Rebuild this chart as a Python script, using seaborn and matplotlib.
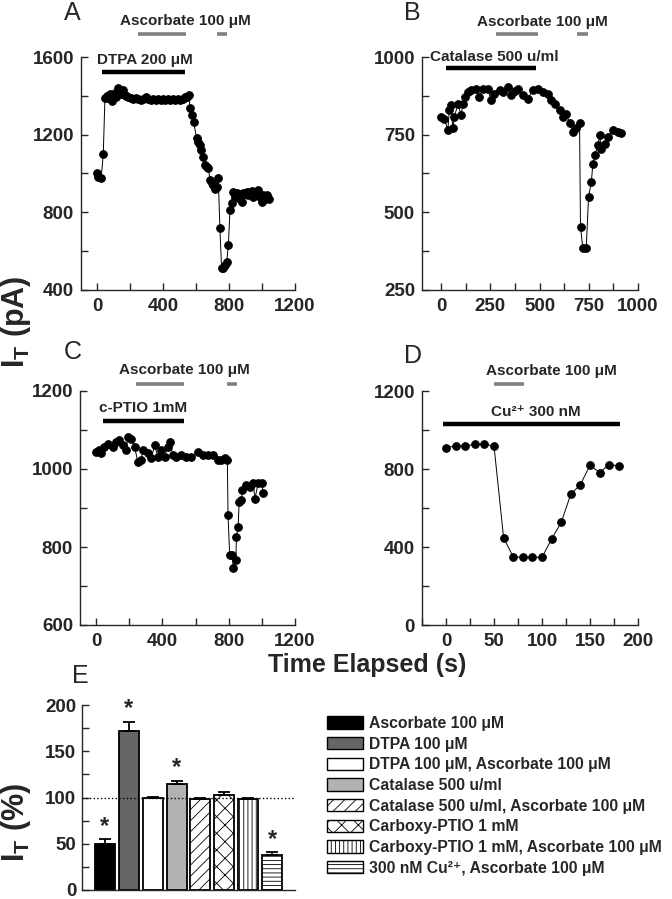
import numpy as np
import pandas as pd
import matplotlib
matplotlib.use('Agg')
import matplotlib.pyplot as plt
from matplotlib.patches import Patch
from matplotlib.ticker import MultipleLocator
import seaborn as sns

# ---- Panel A : DTPA 200 uM ----
a_time = [0, 8, 25, 38, 48, 58, 68, 78, 88, 98, 108, 118, 128, 138, 148, 158, 168, 178,
          190, 205, 220, 235, 250, 265, 280, 295, 310, 325, 340, 355, 370, 385, 400,
          415, 430, 445, 460, 475, 490, 505, 520, 535, 545, 555, 565, 575, 585, 604,
          614, 624, 630, 644, 655, 665, 675, 685, 695, 705, 715, 725, 735, 745, 755,
          765, 776, 786, 796, 806, 816, 826, 836, 846, 856, 866, 877, 887, 897, 907,
          917, 927, 937, 947, 957, 968, 978, 988, 998, 1008, 1018, 1028, 1040]
a_current = [1002, 983, 975, 1100, 1387, 1400, 1390, 1408, 1375, 1400, 1415, 1395, 1442,
             1425, 1410, 1430, 1405, 1400, 1395, 1390, 1385, 1388, 1382, 1380, 1385, 1392,
             1386, 1380, 1383, 1378, 1385, 1380, 1384, 1378, 1382, 1380, 1386, 1378, 1382,
             1380, 1385, 1392, 1395, 1404, 1335, 1301, 1267, 1181, 1160, 1146, 1120, 1086,
             1043, 1035, 1026, 966, 950, 940, 922, 930, 975, 717, 511, 515, 528, 545, 631,
             811, 846, 906, 880, 900, 895, 870, 854, 900, 895, 905, 890, 905, 908, 880, 895,
             905, 914, 880, 854, 890, 870, 890, 868]

# ---- Panel B : Catalase 500 u/ml ----
b_time = [0, 17, 34, 42, 51, 59, 68, 85, 102, 110, 119, 136, 153, 178, 195, 212, 237,
          254, 271, 297, 314, 339, 356, 373, 390, 415, 441, 466, 492, 517, 542, 559, 576,
          602, 619, 636, 653, 669, 686, 703, 708, 720, 737, 749, 763, 771, 780, 797, 805,
          814, 830, 847, 873, 898, 915]
b_current = [807, 802, 764, 829, 845, 770, 807, 850, 812, 848, 871, 887, 893, 898, 871,
             898, 898, 861, 882, 893, 887, 904, 877, 890, 898, 877, 866, 893, 898, 887, 882,
             861, 850, 829, 807, 818, 786, 759, 770, 788, 453, 384, 384, 550, 598, 657, 684,
             716, 748, 705, 721, 743, 764, 759, 754]

# ---- Panel C : c-PTIO 1 mM ----
c_time = [0, 20, 30, 50, 71, 101, 121, 141, 161, 181, 192, 212, 232, 252, 272, 282, 312,
          333, 353, 373, 393, 413, 433, 444, 464, 484, 514, 544, 575, 615, 645, 675, 706,
          736, 756, 776, 792, 796, 806, 822, 827, 843, 847, 857, 863, 877, 883, 907, 927,
          948, 958, 978, 998, 1008]
c_current = [1044, 1048, 1040, 1057, 1065, 1057, 1069, 1074, 1061, 1048, 1082, 1078, 1057,
             1018, 1022, 1048, 1040, 1027, 1061, 1031, 1048, 1031, 1057, 1069, 1035, 1031,
             1035, 1031, 1031, 1044, 1035, 1035, 1035, 1022, 1022, 1027, 1024, 882, 779, 779,
             745, 767, 826, 852, 916, 920, 946, 959, 954, 963, 924, 963, 963, 939]

# ---- Panel D : Cu2+ 300 nM ----
d_time = [0, 10, 20, 30, 40, 50, 60, 70, 80, 90, 100, 110, 120, 130, 140, 150, 160, 170, 180]
d_current = [910, 918, 918, 927, 927, 918, 447, 350, 347, 347, 347, 441, 526, 671, 720,
             819, 782, 823, 816]

# treatment bars (start, end) in seconds
a_dtpa = [30, 533]
a_asc = [[250, 540], [727, 788]]
b_cat = [25, 482]
b_asc = [[280, 490], [690, 746]]
c_ptio = [42, 533]
c_asc = [[242, 533], [788, 848]]
d_cu = [-3, 181]
d_asc = [[50, 81]]

# ---- Panel E : summary ----
bar_labels = ['Ascorbate 100 \u03bcM', 'DTPA 100 \u03bcM',
              'DTPA 100 \u03bcM, Ascorbate 100 \u03bcM', 'Catalase 500 u/ml',
              'Catalase 500 u/ml, Ascorbate 100 \u03bcM', 'Carboxy-PTIO 1 mM',
              'Carboxy-PTIO 1 mM, Ascorbate 100 \u03bcM',
              '300 nM Cu\u00b2\u207a, Ascorbate 100 \u03bcM']
bar_means = [49.8, 171.5, 99.0, 114.5, 98.0, 102.5, 98.5, 37.4]
bar_errs = [5.2, 10.5, 1.5, 3.5, 1.0, 3.0, 1.0, 3.5]
bar_signif = [True, True, False, True, False, False, False, True]
bar_colors = ['#000000', '#666666', '#ffffff', '#b2b2b2', '#ffffff', '#ffffff', '#ffffff', '#ffffff']
bar_hatches = ['', '', '', '', '///', 'xx', '||||', '----']

sns.set_style('ticks')
plt.rcParams['font.family'] = ['Liberation Sans', 'DejaVu Sans']
plt.rcParams['font.weight'] = 'bold'
plt.rcParams['mathtext.fontset'] = 'custom'
plt.rcParams['mathtext.rm'] = 'Liberation Sans:bold'
plt.rcParams['mathtext.it'] = 'Liberation Sans:bold'
plt.rcParams['mathtext.bf'] = 'Liberation Sans:bold'
plt.rcParams['hatch.linewidth'] = 0.6
plt.rcParams['hatch.color'] = '#777777'
plt.rcParams['axes.linewidth'] = 1.0

W, H = 672, 899
fig = plt.figure(figsize=(6.72, 8.99), dpi=100)


def px_axes(l, t, r, b):
    return fig.add_axes([l / W, 1 - b / H, (r - l) / W, (b - t) / H])


axA = px_axes(81, 57, 295, 290)
axB = px_axes(422, 57, 638, 290)
axC = px_axes(80, 391, 295, 625)
axD = px_axes(422, 391, 638, 625)
axE = px_axes(82, 705, 295, 890)


def trace(ax, t, y, ms=5.5):
    sns.lineplot(x=t, y=y, ax=ax, color='black', linewidth=0.7, marker='o',
                 markersize=ms, markeredgecolor='black', estimator=None, sort=False)


def style(ax, xlim, ylim, xmaj, xmin, ymaj, ymin):
    ax.set_xlim(*xlim)
    ax.set_ylim(*ylim)
    ax.xaxis.set_major_locator(MultipleLocator(xmaj))
    ax.xaxis.set_minor_locator(MultipleLocator(xmin))
    ax.yaxis.set_major_locator(MultipleLocator(ymaj))
    ax.yaxis.set_minor_locator(MultipleLocator(ymin))
    ax.tick_params(which='both', direction='in', length=5, width=1, labelsize=13.5)
    ax.tick_params(axis='x', pad=6)
    ax.tick_params(axis='y', pad=5)
    ax.set_xlabel('')
    ax.set_ylabel('')
    sns.despine(ax=ax)


def bar(ax, seg, y, color, lw):
    ax.plot(seg, [y, y], color=color, linewidth=lw, solid_capstyle='butt', clip_on=False)


trace(axA, a_time, a_current)
style(axA, (-97, 1200), (400, 1600), 400, 200, 400, 200)
bar(axA, a_dtpa, 1523, 'black', 3.2)
for s in a_asc:
    bar(axA, s, 1718, '#808080', 2.6)
axA.text(533, 1785, 'Ascorbate 100 \u03bcM', ha='center', va='center', fontsize=11)
axA.text(288, 1585, 'DTPA 200 \u03bcM', ha='center', va='center', fontsize=11)

trace(axB, b_time, b_current)
style(axB, (-97, 1000), (250, 1000), 250, 125, 250, 125)
bar(axB, b_cat, 965, 'black', 3.2)
for s in b_asc:
    bar(axB, s, 1074, '#808080', 2.6)
axB.text(513, 1113, 'Ascorbate 100 \u03bcM', ha='center', va='center', fontsize=11)
axB.text(269, 1000, 'Catalase 500 u/ml', ha='center', va='center', fontsize=11)

trace(axC, c_time, c_current)
style(axC, (-97, 1200), (600, 1200), 400, 200, 200, 100)
bar(axC, c_ptio, 1124, 'black', 3.2)
for s in c_asc:
    bar(axC, s, 1217, '#808080', 2.6)
axC.text(533, 1253, 'Ascorbate 100 \u03bcM', ha='center', va='center', fontsize=11)
axC.text(285, 1156, 'c-PTIO 1mM', ha='center', va='center', fontsize=11)

trace(axD, d_time, d_current)
style(axD, (-25, 200), (0, 1200), 50, 25, 400, 200)
bar(axD, d_cu, 1030, 'black', 3.2)
for s in d_asc:
    bar(axD, s, 1234, '#808080', 2.6)
axD.text(110, 1301, 'Ascorbate 100 \u03bcM', ha='center', va='center', fontsize=11)
axD.text(94, 1093, 'Cu\u00b2\u207a 300 nM', ha='center', va='center', fontsize=11)

# summary bars
bar_df = pd.DataFrame({'cond': bar_labels, 'pct': bar_means})
sns.barplot(data=bar_df, x='cond', y='pct', hue='cond', palette=bar_colors, legend=False,
            width=0.84, saturation=1, edgecolor='black', linewidth=1.3, errorbar=None, ax=axE)
for p, h in zip(axE.patches, bar_hatches):
    p.set_hatch(h)
pos = np.arange(len(bar_means))
axE.errorbar(pos, bar_means, yerr=[np.zeros(len(bar_errs)), bar_errs], fmt='none',
             ecolor='black', elinewidth=1.3, capsize=4.5, capthick=1.3)
for x, m, e, s in zip(pos, bar_means, bar_errs, bar_signif):
    if s:
        axE.annotate('*', (x, m + e), xytext=(0, 1), textcoords='offset points',
                     ha='center', va='bottom', fontsize=17)
axE.axhline(100, color='black', linestyle=':', linewidth=1)
axE.set_xlim(-0.96, 7.96)
axE.set_ylim(0, 200)
axE.yaxis.set_major_locator(MultipleLocator(50))
axE.yaxis.set_minor_locator(MultipleLocator(25))
axE.tick_params(axis='y', which='both', direction='in', length=5, width=1, labelsize=13.5, pad=4)
axE.tick_params(axis='x', bottom=False, labelbottom=False)
axE.set_xlabel('')
axE.set_ylabel('')
sns.despine(ax=axE)

handles = [Patch(facecolor=c, edgecolor='black', hatch=h, linewidth=1.0)
           for c, h in zip(bar_colors, bar_hatches)]
fig.legend(handles, bar_labels, loc='upper left', bbox_to_anchor=(327 / W, 1 - 716 / H),
           frameon=False, prop={'weight': 'bold', 'size': 11.3}, handlelength=2.3,
           handleheight=0.85, labelspacing=0.36, handletextpad=0.35, borderpad=0,
           borderaxespad=0)

# panel letters and shared labels
for letter, x, y in [('A', 64, 13), ('B', 404, 13), ('C', 64, 352), ('D', 404, 356), ('E', 72, 676)]:
    fig.text(x / W, 1 - y / H, letter, fontsize=18, fontweight='normal', va='center', ha='left')
fig.text(16 / W, 1 - 322 / H, r'I$_\mathregular{T}$ (pA)', rotation=90, fontsize=22,
         ha='center', va='center')
fig.text(16 / W, 1 - 822 / H, r'I$_\mathregular{T}$ (%)', rotation=90, fontsize=22,
         ha='center', va='center')
fig.text(367 / W, 1 - 665 / H, 'Time Elapsed (s)', fontsize=18, ha='center', va='center')

fig.savefig('out.png', dpi=100)
